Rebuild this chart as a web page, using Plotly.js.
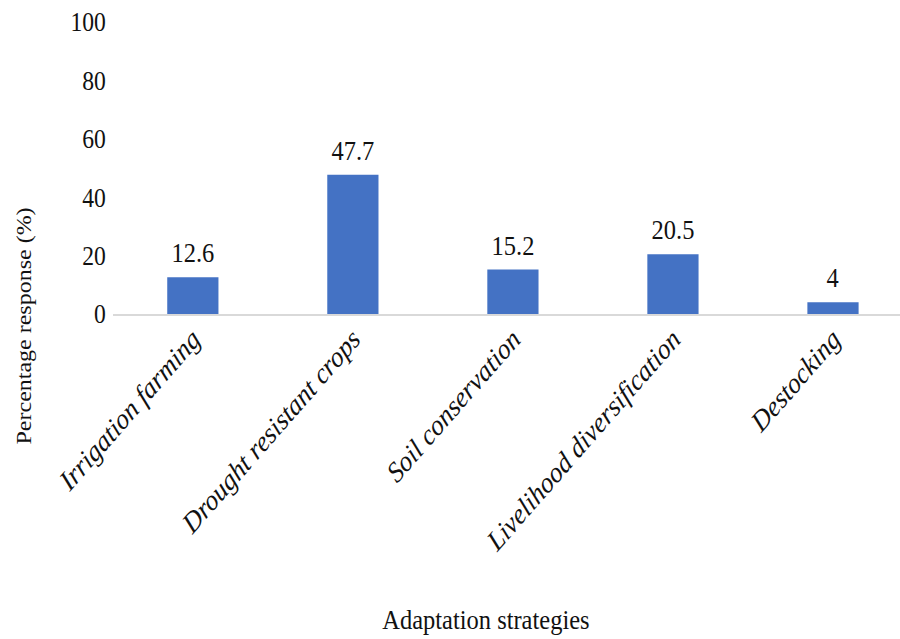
<!DOCTYPE html>
<html>
<head>
<meta charset="utf-8">
<script src="https://cdn.plot.ly/plotly-3.0.1.min.js"></script>
<style>
  html, body { margin: 0; padding: 0; background: #ffffff; }
  #frame { width: 900px; height: 639px; overflow: hidden; }
  /* the figure is laid out wider and condensed horizontally to fit the frame */
  #chart { width: 1029px; height: 639px; transform: scaleX(0.87464); transform-origin: 0 0; }
</style>
</head>
<body>
<div id="frame"><div id="chart"></div></div>
<script>
// Adaptation strategies and share of respondents using each one
const strategies = [
  "Irrigation farming",
  "Drought resistant crops",
  "Soil conservation",
  "Livelihood diversification",
  "Destocking"
];
const responsePct = [12.6, 47.7, 15.2, 20.5, 4];
const yTickValues = [0, 20, 40, 60, 80, 100];

const serif = "'Liberation Serif', 'Times New Roman', serif";

const bars = {
  type: "bar",
  x: strategies,
  y: responsePct,
  width: 0.32,
  marker: { color: "#4472C4" },
  hoverinfo: "x+y"
};

// value labels sitting above each bar
const valueLabels = strategies.map((s, i) => ({
  x: s,
  y: responsePct[i],
  xref: "x",
  yref: "y",
  text: String(responsePct[i]),
  showarrow: false,
  yanchor: "bottom",
  yshift: 7,
  font: { family: serif, size: 28, color: "#111111" }
}));

const layout = {
  width: 1029,
  height: 639,
  margin: { l: 129, r: 0, t: 22, b: 325 },
  paper_bgcolor: "#ffffff",
  plot_bgcolor: "#ffffff",
  showlegend: false,
  font: { family: serif, color: "#111111" },
  xaxis: {
    type: "category",
    range: [-0.5, 4.41875],
    showgrid: false,
    zeroline: false,
    showline: true,
    linecolor: "#d9d9d9",
    linewidth: 1.5,
    ticks: "",
    tickangle: -45,
    ticklabelstandoff: -5,
    tickfont: { family: serif, size: 29, color: "#111111", style: "italic" },
    fixedrange: true
  },
  yaxis: {
    range: [0, 100],
    tickvals: yTickValues,
    ticktext: yTickValues.map(String),
    showgrid: false,
    zeroline: false,
    showline: false,
    ticks: "",
    ticklabelstandoff: 7,
    tickfont: { family: serif, size: 27, color: "#111111" },
    fixedrange: true
  },
  annotations: valueLabels.concat([
    {
      text: "Percentage response (%)",
      xref: "paper", yref: "paper",
      x: -0.1135, y: -0.04,
      xanchor: "center", yanchor: "middle",
      textangle: -90,
      showarrow: false,
      font: { family: serif, size: 24, color: "#111111" }
    },
    {
      text: "Adaptation strategies",
      xref: "paper", yref: "paper",
      x: 0.474, y: -1.047,
      xanchor: "center", yanchor: "middle",
      showarrow: false,
      font: { family: serif, size: 28, color: "#111111" }
    }
  ])
};

Plotly.newPlot("chart", [bars], layout, { displayModeBar: false, staticPlot: true });
</script>
</body>
</html>
